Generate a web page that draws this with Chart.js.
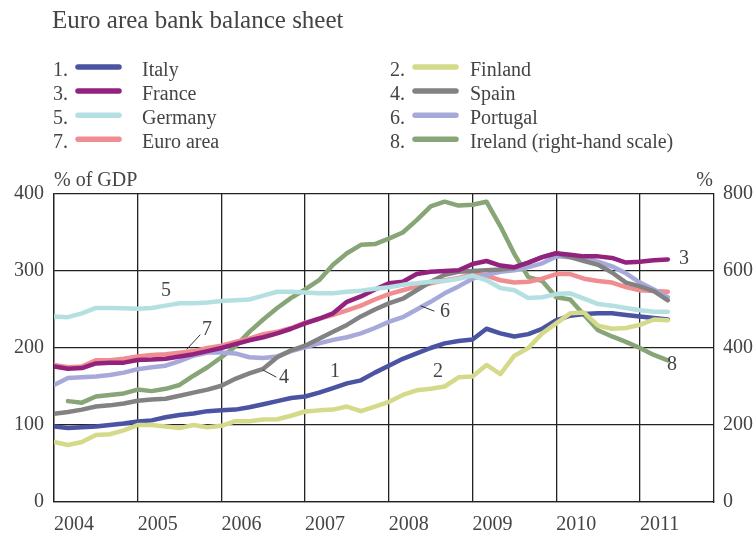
<!DOCTYPE html>
<html>
<head>
<meta charset="utf-8">
<script src="https://cdn.jsdelivr.net/npm/chart.js@4.4.0/dist/chart.umd.min.js"></script>
<style>
  html, body { margin: 0; padding: 0; background: #fff; }
  canvas { display: block; }
</style>
</head>
<body>
<canvas id="myChart" width="756" height="535" style="width:756px;height:535px"></canvas>
<script>
// bi-monthly observations, Jan 2004 .. May 2011
const dates = Array.from({ length: 45 }, (_, i) => 2004 + i / 6);
const years = [2004, 2005, 2006, 2007, 2008, 2009, 2010, 2011];
const leftTicks = [0, 100, 200, 300, 400];
const rightTicks = [0, 200, 400, 600, 800];

// % of GDP
const italy = [98, 96, 97, 98, 100, 102, 104.5, 106, 110, 113, 115, 118, 119, 120, 123, 127, 131, 135, 137, 142, 148, 154, 158, 168, 177, 186, 193, 200, 206, 209, 211, 225, 219, 215, 218, 225, 236, 242, 244, 245, 245, 243, 241, 239, 237];
const finland = [78, 74, 78, 87, 88, 93, 100, 100, 98, 96, 100, 97, 99, 105, 105, 107, 107.5, 112, 117.5, 119, 120, 124, 118, 124, 130, 139, 145, 147, 150, 162, 163, 178, 166, 190, 200, 219, 232, 245, 246, 229, 225, 226, 230, 237, 236];
const france = [176, 173, 174, 180, 181, 181, 184.5, 185, 186, 189, 192, 196, 200, 205, 210, 214, 219, 225, 232, 238, 245, 260, 267, 276, 284, 286, 296, 299, 300, 301, 309, 313, 307, 305, 311, 318, 323, 321, 319, 319, 317, 311, 312, 314, 315];
const spain = [114.5, 117, 120, 124, 125.5, 128, 131.5, 133, 134, 138, 142, 146, 151, 160, 167, 173, 188, 197, 203, 212, 221, 230, 241, 250, 258, 264, 275, 286, 295, 299, 300, 301, 302, 304, 311, 318, 323, 318, 313, 308, 298, 285, 280, 274, 262];
const germany = [241, 240, 245, 252, 252, 251.5, 251, 252, 255, 258, 258, 259, 261, 262, 263, 268, 273, 273, 272, 271, 271, 273, 274.5, 277, 279, 282, 284, 286, 287, 290, 294, 288, 278, 275, 265, 266, 270, 271, 264, 257, 255, 252, 249, 247, 247];
const portugal = [152, 161, 162, 163, 165, 168, 172.5, 175, 177, 183, 190, 194, 194, 193, 188, 187, 189, 196, 201, 206, 210.5, 214, 219, 226, 234, 240, 250, 260, 271, 280, 290, 295, 299, 301, 305, 310, 319, 318, 317, 312, 306, 297, 285, 276, 266];
const euroArea = [178, 175, 176, 184, 184, 186, 189, 191, 192, 194, 196, 200, 203, 208, 212, 218, 221, 226, 233, 238, 243, 249, 255, 263, 270, 275, 280, 284, 288, 291, 296, 294, 288, 285, 286, 290, 296, 296, 290, 287, 285, 279, 275, 274, 273];
// right-hand scale, %
const ireland = [null, 262, 258, 274, 278, 282, 292, 288, 294, 304, 328, 350, 376, 404, 442, 474, 504, 530, 552, 576, 616, 646, 668, 670, 684, 700, 732, 768, 780, 770, 772, 780, 716, 644, 584, 574, 532, 526, 486, 446, 430, 416, 400, 382, 368];

const series = [
  { num: 5, label: "Germany", values: germany, color: "#b5e0e2", axis: "y" },
  { num: 3, label: "France", values: france, color: "#93227f", axis: "y" },
  { num: 4, label: "Spain", values: spain, color: "#828282", axis: "y" },
  { num: 6, label: "Portugal", values: portugal, color: "#a7a9da", axis: "y" },
  { num: 7, label: "Euro area", values: euroArea, color: "#f08d90", axis: "y" },
  { num: 2, label: "Finland", values: finland, color: "#d5da8b", axis: "y" },
  { num: 1, label: "Italy", values: italy, color: "#4a54a3", axis: "y" },
  { num: 8, label: "Ireland (right-hand scale)", values: ireland, color: "#87a576", axis: "y2" },
];

const FONT = "'Liberation Serif', 'DejaVu Serif', serif";
const TXT = "#444";

const datasets = series.map(s => ({
  label: s.label,
  data: s.values.map((v, i) => ({ x: dates[i], y: v })),
  borderColor: s.color,
  backgroundColor: s.color,
  borderWidth: 4.5,
  pointRadius: 0,
  tension: 0,
  borderCapStyle: "round",
  borderJoinStyle: "round",
  yAxisID: s.axis,
}));

const decorations = {
  id: "decorations",
  afterDraw(chart) {
    const ctx = chart.ctx;
    ctx.save();
    ctx.fillStyle = TXT;
    ctx.textBaseline = "alphabetic";
    ctx.textAlign = "left";
    ctx.font = "25px " + FONT;
    ctx.fillText("Euro area bank balance sheet", 52, 28);

    // numbered legend, two columns
    ctx.font = "20px " + FONT;
    const sorted = [...series].sort((a, b) => a.num - b.num);
    sorted.forEach(s => {
      const col = (s.num - 1) % 2;
      const row = Math.floor((s.num - 1) / 2);
      const base = 76 + row * 24.1;
      const x0 = col === 0 ? 53 : 390;
      ctx.fillStyle = TXT;
      ctx.fillText(s.num + ".", x0, base);
      ctx.strokeStyle = s.color;
      ctx.lineWidth = 5.5;
      ctx.lineCap = "round";
      ctx.beginPath();
      ctx.moveTo(x0 + 25, base - 9);
      ctx.lineTo(x0 + 66, base - 9);
      ctx.stroke();
      ctx.fillText(s.label, col === 0 ? 142 : 470, base);
    });

    ctx.fillText("% of GDP", 54, 186);
    ctx.textAlign = "right";
    ctx.fillText("%", 713, 186);

    // series numbers on the plot
    ctx.textAlign = "center";
    ctx.textBaseline = "middle";
    const tags = [["5", 166, 291], ["7", 207, 330], ["4", 284, 378], ["1", 335, 372], ["6", 445, 312], ["2", 438, 372], ["3", 684, 259], ["8", 672, 365]];
    tags.forEach(t => ctx.fillText(t[0], t[1], t[2]));
    ctx.strokeStyle = "#333";
    ctx.lineWidth = 1;
    const leaders = [[187, 349, 200, 335], [263, 370, 276, 377], [421, 306, 434, 311]];
    leaders.forEach(l => {
      ctx.beginPath();
      ctx.moveTo(l[0], l[1]);
      ctx.lineTo(l[2], l[3]);
      ctx.stroke();
    });
    ctx.restore();
  },
};

const ctx = document.getElementById("myChart").getContext("2d");
new Chart(ctx, {
  type: "line",
  data: { datasets: datasets },
  plugins: [decorations],
  options: {
    responsive: false,
    animation: false,
    layout: { padding: { top: 194, left: 0, right: 0, bottom: 0 } },
    plugins: { legend: { display: false }, tooltip: { enabled: false } },
    scales: {
      x: {
        type: "linear",
        min: 2004,
        max: 2011.885,
        afterBuildTicks: s => { s.ticks = years.map(v => ({ value: v })); },
        afterFit: s => { s.height = 33; },
        grid: { color: "#222", lineWidth: 1.3, drawTicks: false },
        border: { color: "#222", width: 1.3 },
        ticks: {
          align: "start",
          autoSkip: false,
          maxRotation: 0,
          padding: 11,
          color: TXT,
          font: { family: FONT, size: 20 },
          callback: v => String(v),
        },
      },
      y: {
        position: "left",
        min: 0,
        max: 400,
        afterBuildTicks: s => { s.ticks = leftTicks.map(v => ({ value: v })); },
        afterFit: s => { s.width = 54; },
        grid: { color: "#222", lineWidth: 1.3, drawTicks: false },
        border: { color: "#222", width: 1.3 },
        ticks: { padding: 10, color: TXT, font: { family: FONT, size: 20 } },
      },
      y2: {
        position: "right",
        min: 0,
        max: 800,
        afterBuildTicks: s => { s.ticks = rightTicks.map(v => ({ value: v })); },
        afterFit: s => { s.width = 42; },
        grid: { drawOnChartArea: false, drawTicks: false },
        border: { color: "#222", width: 1.3 },
        ticks: { padding: 9, color: TXT, font: { family: FONT, size: 20 } },
      },
    },
  },
});
</script>
</body>
</html>
